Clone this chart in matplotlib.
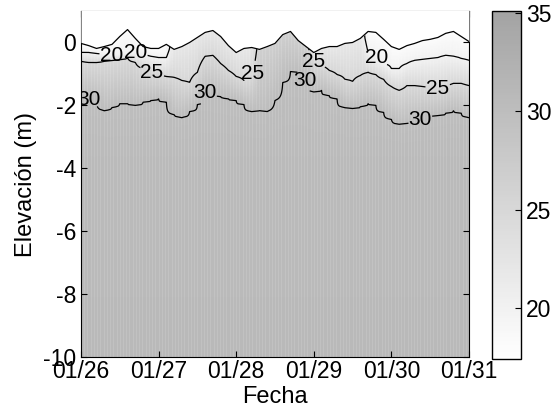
import numpy as np
import matplotlib
matplotlib.use('Agg')
import matplotlib.pyplot as plt
from matplotlib.colors import LinearSegmentedColormap

plt.rcParams['font.family'] = ['Liberation Sans', 'DejaVu Sans']
plt.rcParams['axes.unicode_minus'] = False

# tiempo en dias desde 01/26 00:00 (cada 0.1 dia)
dias = np.linspace(0, 5, 51)
fechas = ['01/26', '01/27', '01/28', '01/29', '01/30', '01/31']

# superficie libre (m)
eta = [-0.03, -0.10, -0.19, -0.13, -0.06, 0.19, 0.41, 0.13, -0.13, -0.19,
       -0.19, -0.06, -0.22, -0.13, 0.00, 0.16, 0.32, 0.38, 0.19, -0.10,
       -0.32, -0.19, -0.16, -0.22, -0.13, -0.03, 0.25, 0.35, 0.06, -0.13,
       -0.32, -0.19, -0.13, -0.13, -0.03, 0.00, 0.13, 0.35, 0.32, 0.10,
       -0.13, -0.22, -0.10, -0.03, 0.06, 0.10, 0.16, 0.29, 0.35, 0.19,
       0.03]

nan = np.nan
# profundidad de las isohalinas 20, 25 y 30 (m), nan donde no existe
z20 = [-0.32, -0.32, -0.35, -0.38, -0.41, -0.38, -0.32, -0.32, -0.38, -0.44,
       -0.48, -0.48, nan, nan, nan, nan, nan, nan, nan, nan,
       nan, nan, nan, nan, nan, nan, nan, nan, nan, nan,
       nan, nan, nan, nan, nan, nan, nan, -0.32, -0.48, -0.67,
       -0.83, -0.83, -0.67, -0.57, -0.54, -0.51, -0.48, -0.41, -0.44, -0.51,
       -0.57]
z25 = [-0.60, -0.63, -0.63, -0.60, -0.57, -0.54, -0.48, -0.63, -0.83, -0.95,
       -1.02, -1.08, -1.11, -1.21, -1.27, -0.95, -0.44, -0.41, -0.67, -0.89,
       -1.08, -1.21, -1.14, nan, nan, nan, nan, nan, nan, nan,
       -0.63, -0.73, -0.89, -1.02, -1.17, -1.24, -1.05, -0.95, -1.02, -1.17,
       -1.40, -1.52, -1.37, -1.37, -1.40, -1.43, -1.46, -1.40, -1.30, -1.30,
       -1.37]
z30 = [-1.75, -1.78, -1.90, -2.16, -2.06, -1.94, -1.94, -2.00, -1.90, -1.84,
       -1.78, -1.90, -2.29, -2.38, -2.19, -1.97, -1.59, -1.65, -1.71, -1.78,
       -1.84, -1.97, -2.19, -2.16, -2.19, -1.84, -1.27, -0.92, -0.95, -1.21,
       -1.56, -1.52, -1.68, -1.78, -2.06, -2.10, -2.03, -1.94, -2.00, -2.22,
       -2.44, -2.60, -2.57, -2.48, -2.41, -2.35, -2.32, -2.25, -2.16, -2.25,
       -2.38]

# salinidad de fondo
z_fondo = [-3.5, -10.0]
s_fondo = [30.6, 30.9]

# construir el campo de salinidad columna por columna
z_fino = np.linspace(-10, 1.2, 449)
S = np.zeros((len(z_fino), len(dias)))
for i in range(len(dias)):
    if not np.isnan(z20[i]):
        s_sup = 18.0
    elif not np.isnan(z25[i]):
        s_sup = 22.0
    else:
        s_sup = 26.5
    zz = [eta[i]]
    ss = [s_sup]
    for z, s in [(z20[i], 20), (z25[i], 25), (z30[i], 30)]:
        if not np.isnan(z):
            zz.append(z)
            ss.append(s)
    zz += z_fondo
    ss += s_fondo
    zz = np.array(zz)
    ss = np.array(ss)
    o = np.argsort(zz)
    S[:, i] = np.interp(z_fino, zz[o], ss[o])

gris = LinearSegmentedColormap.from_list('gris', [(1, 1, 1), (0.64, 0.64, 0.64)])

fig = plt.figure(figsize=(5.52, 4.19), dpi=100)
ax = fig.add_axes([0.1467, 0.148, 0.7029, 0.8257])
cax = fig.add_axes([0.891, 0.143, 0.0525, 0.8305])

pm = ax.pcolormesh(dias, z_fino, S, cmap=gris, vmin=17.4, vmax=35.1,
                   shading='gouraud', zorder=1)
# rayado vertical de las columnas horarias del modelo
horas = np.arange(0, 5, 1 / 24)
ax.vlines(horas, -10, 1.2, colors='white', alpha=0.12, lw=0.8, zorder=1.5)
cs = ax.contour(dias, z_fino, S, levels=[20, 25, 30], colors='k',
                linewidths=0.9, zorder=2)
ax.fill_between(dias, eta, 1.2, color='white', zorder=3, lw=0)
ax.plot(dias, eta, color='k', lw=0.9, zorder=4)

pos = [(0.40, -0.41), (0.70, -0.32), (3.81, -0.51),
       (0.915, -0.95), (2.25, -1.0), (2.99, -0.63), (4.6, -1.46),
       (0.14, -1.78), (1.62, -1.55), (2.89, -1.14), (4.37, -2.41)]
txt = ax.clabel(cs, manual=pos, inline=True, fontsize=15, fmt='%d',
                inline_spacing=1)
for t in txt:
    t.set_zorder(5)
    t.set_rotation(0)

ax.set_xlim(0, 5)
ax.set_ylim(-10, 1)
ax.set_xticks(range(6))
ax.set_xticklabels(fechas)
ax.set_yticks([-10, -8, -6, -4, -2, 0])
ax.tick_params(direction='in', top=True, right=True, length=4, labelsize=16.5)
ax.tick_params(axis='x', pad=2)
ax.set_xlabel('Fecha', fontsize=17, labelpad=2)
ax.set_ylabel('Elevación (m)', fontsize=17, labelpad=4)

cb = fig.colorbar(pm, cax=cax, ticks=[20, 25, 30, 35])
cb.outline.set_linewidth(1)
cax.tick_params(direction='in', length=4, labelsize=16.5)

fig.savefig('out.png', dpi=100)
